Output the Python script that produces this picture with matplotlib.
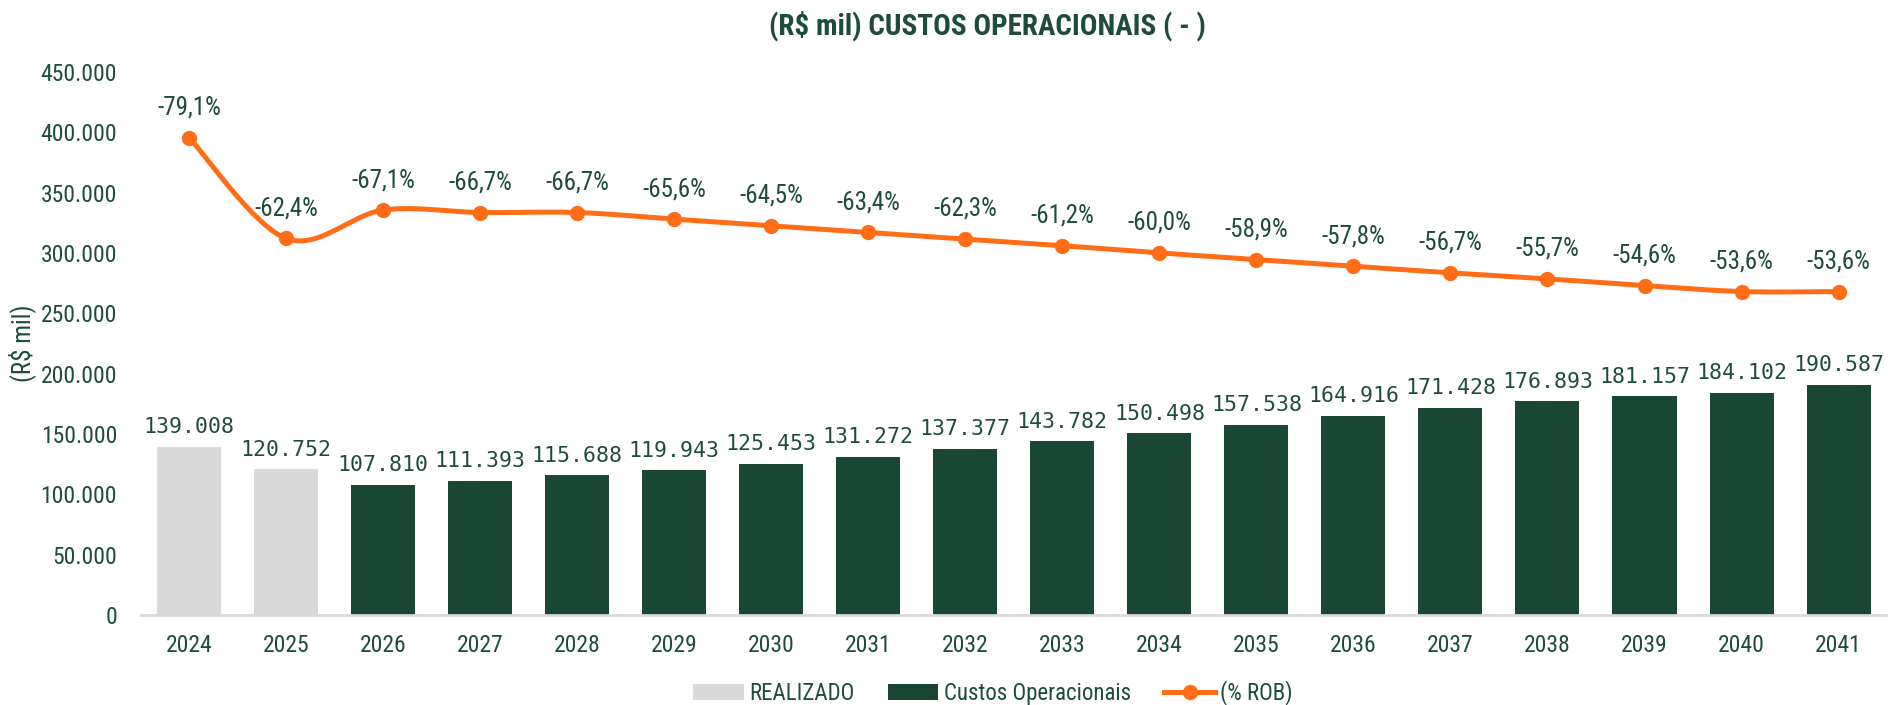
import numpy as np
import matplotlib
matplotlib.use("Agg")
import matplotlib.pyplot as plt
from matplotlib.patches import Patch
from matplotlib.lines import Line2D
from matplotlib import font_manager

years = ["2024", "2025", "2026", "2027", "2028", "2029", "2030", "2031", "2032",
         "2033", "2034", "2035", "2036", "2037", "2038", "2039", "2040", "2041"]
custos = [139008, 120752, 107810, 111393, 115688, 119943, 125453, 131272, 137377,
          143782, 150498, 157538, 164916, 171428, 176893, 181157, 184102, 190587]
realizado_flags = [True, True] + [False] * 16
pct_rob = [-79.1, -62.4, -67.1, -66.7, -66.7, -65.6, -64.5, -63.4, -62.3,
           -61.2, -60.0, -58.9, -57.8, -56.7, -55.7, -54.6, -53.6, -53.6]
yticks = [0, 50000, 100000, 150000, 200000, 250000, 300000, 350000, 400000, 450000]

avail = {f.name for f in font_manager.fontManager.ttflist}
def pick(cands):
    for c in cands:
        if c in avail:
            return c
    return "DejaVu Sans"
NARROW = pick(["Liberation Sans Narrow", "Roboto Condensed", "DejaVu Sans Condensed", "Liberation Sans"])
MONO = pick(["DejaVu Sans Mono", "Liberation Mono"])

TXT = "#1d4d3a"
GREEN = "#1a4734"
GRAY = "#d9d9d9"
ORANGE = "#ff6d17"

def fmt_thousands(v):
    return f"{v:,.0f}".replace(",", ".")

fig = plt.figure(figsize=(18.88, 7.05), dpi=100)
ax = fig.add_axes([0.0745, 0.1277, 0.925, 0.7703])
x = np.arange(len(years))
colors = [GRAY if r else GREEN for r in realizado_flags]
ax.bar(x, custos, width=0.66, color=colors, zorder=2)
ax.set_ylim(0, 450000)
ax.set_xlim(-0.5, len(years) - 0.5)
ax.set_yticks(yticks)
ax.set_yticklabels([fmt_thousands(v) for v in yticks], fontfamily=NARROW, fontsize=17, color=TXT)
ax.set_xticks(x)
ax.set_xticklabels(years, fontfamily=NARROW, fontsize=17, color=TXT)
ax.tick_params(axis="y", length=0, pad=17)
ax.tick_params(axis="x", length=0, pad=14)
for s in ["top", "right", "left"]:
    ax.spines[s].set_visible(False)
ax.spines["bottom"].set_color(GRAY)
ax.spines["bottom"].set_linewidth(2)
ax.set_ylabel("(R$ mil)", fontfamily=NARROW, fontsize=18, color=TXT, labelpad=3)

for xi, v in zip(x, custos):
    ax.annotate(fmt_thousands(v), (xi, v), xytext=(0, 7), textcoords="offset points",
                ha="center", va="bottom", fontfamily=MONO, fontsize=15.5, color=TXT)

ax2 = ax.twinx()
ax2.set_ylim(0, 90)
ax2.axis("off")
mag = np.abs(np.array(pct_rob))

# smooth curve through the points (Catmull-Rom Bezier, like a spreadsheet smoothed line)
def smooth(xs, ys, n=30):
    px, py = [], []
    N = len(xs)
    for i in range(N - 1):
        p0 = (xs[max(i - 1, 0)], ys[max(i - 1, 0)])
        p1 = (xs[i], ys[i])
        p2 = (xs[i + 1], ys[i + 1])
        p3 = (xs[min(i + 2, N - 1)], ys[min(i + 2, N - 1)])
        c1 = (p1[0] + (p2[0] - p0[0]) / 6, p1[1] + (p2[1] - p0[1]) / 6)
        c2 = (p2[0] - (p3[0] - p1[0]) / 6, p2[1] - (p3[1] - p1[1]) / 6)
        t = np.linspace(0, 1, n)
        bx = (1 - t) ** 3 * p1[0] + 3 * (1 - t) ** 2 * t * c1[0] + 3 * (1 - t) * t ** 2 * c2[0] + t ** 3 * p2[0]
        by = (1 - t) ** 3 * p1[1] + 3 * (1 - t) ** 2 * t * c1[1] + 3 * (1 - t) * t ** 2 * c2[1] + t ** 3 * p2[1]
        px.extend(bx); py.extend(by)
    return np.array(px), np.array(py)

sx, sy = smooth(x.astype(float), mag)
ax2.plot(sx, sy, color=ORANGE, lw=3.6, zorder=3, solid_capstyle="round")
ax2.plot(x, mag, "o", color=ORANGE, ms=10, zorder=4)
for xi, v, p in zip(x, mag, pct_rob):
    ax2.annotate(f"{p:.1f}%".replace(".", ","), (xi, v), xytext=(0, 13), textcoords="offset points",
                 ha="center", va="bottom", fontfamily=NARROW, fontsize=18, color=TXT)

fig.text(0.523, 0.963, "(R$ mil) CUSTOS OPERACIONAIS ( - )", ha="center", va="center",
         fontfamily=NARROW, fontsize=21, fontweight="bold", color=TXT)

handles = [Patch(facecolor=GRAY), Patch(facecolor=GREEN),
           Line2D([0], [0], color=ORANGE, lw=3.6, marker="o", ms=10)]
labels = ["REALIZADO", "Custos Operacionais", "(% ROB)"]
leg = fig.legend(handles, labels, loc="center", bbox_to_anchor=(0.526, 0.017), ncol=3,
                 frameon=False, handlelength=2.2, handletextpad=0.25, columnspacing=1.45,
                 prop={"family": NARROW, "size": 16.5})
for t in leg.get_texts():
    t.set_color(TXT)

fig.savefig("out.png", dpi=100)
